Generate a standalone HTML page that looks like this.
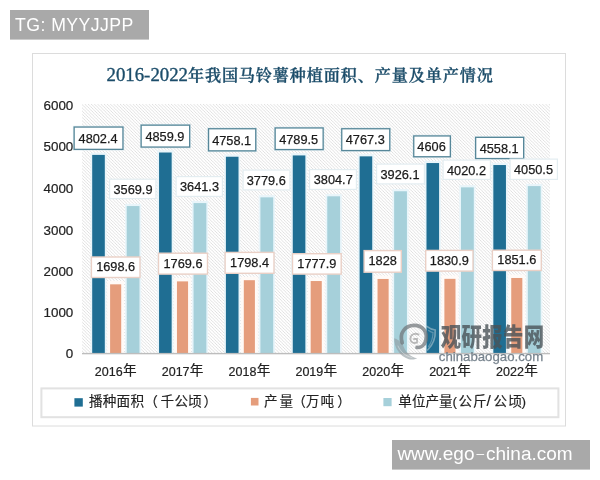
<!DOCTYPE html>
<html lang="zh"><head><meta charset="utf-8"><title>2016-2022年我国马铃薯种植面积、产量及单产情况</title>
<style>
html,body{margin:0;padding:0;background:#fff;}
body{width:600px;height:480px;overflow:hidden;position:relative;}
svg{position:absolute;left:0;top:0;display:block;}
text{font-family:"Liberation Sans","Noto Sans CJK SC",sans-serif;}
.t{font-family:"Liberation Serif","Noto Serif CJK SC",serif;font-weight:bold;}
.dl{font-size:13.7px;fill:#1a1a1a;stroke:#1a1a1a;stroke-width:0.25px;}
.ax{font-size:13.4px;fill:#222;stroke:#222;stroke-width:0.2px;}
.lg{font-size:13.6px;fill:#222;stroke:#222;stroke-width:0.15px;}
</style></head><body>
<svg width="600" height="480" viewBox="0 0 600 480">
<defs>
<pattern id="hatch" width="3.2" height="3.2" patternUnits="userSpaceOnUse">
<rect width="3.2" height="3.2" fill="#fff"/>
<path d="M-0.8,-0.8 L4,4 M-0.8,2.4 L0.8,4 M2.4,-0.8 L4,0.8" stroke="#d5d5d5" stroke-width="0.72" fill="none"/>
</pattern>
<filter id="gl" x="-30%" y="-5%" width="160%" height="110%"><feGaussianBlur stdDeviation="0.5"/></filter>
</defs>
<rect width="600" height="480" fill="#fff"/>

<rect x="10" y="10" width="139" height="29.6" fill="#a9a9a9"/>
<text x="15" y="31.2" font-size="17.7" fill="#fff" textLength="118.4" lengthAdjust="spacing">TG: MYYJJPP</text>
<rect x="392" y="440" width="198" height="29.6" fill="#a9a9a9"/>
<text x="397.4" y="459.7" font-size="19" fill="#fff"><tspan>www.ego</tspan><tspan dx="1.9" dy="-1.3" font-size="13.7">–</tspan><tspan dx="2.0" dy="1.3">china.com</tspan></text>
<rect x="32.5" y="53.5" width="533" height="372.5" fill="#fff" stroke="#dcdcdc" stroke-width="1"/>
<text class="t" fill="#1c4d6a" stroke="#1c4d6a"><tspan x="106.5" y="80.9" font-size="19.4" style="font-weight:normal" stroke-width="0.35" textLength="81.5" lengthAdjust="spacingAndGlyphs">2016-2022</tspan><tspan x="187.9" y="80.8" font-size="16.1" style="font-weight:600" stroke-width="0.3" textLength="304.9" lengthAdjust="spacing">年我国马铃薯种植面积、产量及单产情况</tspan></text>
<rect x="82.0" y="104.0" width="468.0" height="249.7" fill="url(#hatch)"/>
<text class="ax" x="73.3" y="358.0" text-anchor="end">0</text>
<text class="ax" x="73.3" y="317.1" text-anchor="end">1000</text>
<text class="ax" x="73.3" y="276.0" text-anchor="end">2000</text>
<text class="ax" x="73.3" y="234.5" text-anchor="end">3000</text>
<text class="ax" x="73.3" y="192.9" text-anchor="end">4000</text>
<text class="ax" x="73.3" y="150.9" text-anchor="end">5000</text>
<text class="ax" x="73.3" y="109.8" text-anchor="end">6000</text>
<rect x="90.50" y="152.70" width="16.00" height="201.00" fill="#e9f5fa" filter="url(#gl)"/>
<rect x="92.20" y="154.90" width="12.60" height="198.80" fill="#1f6e93"/>
<rect x="107.20" y="280.93" width="16.90" height="72.77" fill="#fffaf7" filter="url(#gl)"/>
<rect x="110.10" y="284.33" width="11.10" height="69.37" fill="#e59d7c"/>
<rect x="125.00" y="203.85" width="16.20" height="149.85" fill="#e9f5fa" filter="url(#gl)"/>
<rect x="126.70" y="206.05" width="12.80" height="147.65" fill="#a6d0da"/>
<rect x="157.36" y="150.31" width="16.00" height="203.39" fill="#e9f5fa" filter="url(#gl)"/>
<rect x="159.06" y="152.51" width="12.60" height="201.19" fill="#1f6e93"/>
<rect x="174.06" y="277.98" width="16.90" height="75.72" fill="#fffaf7" filter="url(#gl)"/>
<rect x="176.96" y="281.38" width="11.10" height="72.32" fill="#e59d7c"/>
<rect x="191.86" y="200.89" width="16.20" height="152.81" fill="#e9f5fa" filter="url(#gl)"/>
<rect x="193.56" y="203.09" width="12.80" height="150.61" fill="#a6d0da"/>
<rect x="224.21" y="154.54" width="16.00" height="199.16" fill="#e9f5fa" filter="url(#gl)"/>
<rect x="225.91" y="156.74" width="12.60" height="196.96" fill="#1f6e93"/>
<rect x="240.91" y="276.79" width="16.90" height="76.91" fill="#fffaf7" filter="url(#gl)"/>
<rect x="243.81" y="280.19" width="11.10" height="73.51" fill="#e59d7c"/>
<rect x="258.71" y="195.15" width="16.20" height="158.55" fill="#e9f5fa" filter="url(#gl)"/>
<rect x="260.41" y="197.35" width="12.80" height="156.35" fill="#a6d0da"/>
<rect x="291.07" y="153.24" width="16.00" height="200.46" fill="#e9f5fa" filter="url(#gl)"/>
<rect x="292.77" y="155.44" width="12.60" height="198.26" fill="#1f6e93"/>
<rect x="307.77" y="277.64" width="16.90" height="76.06" fill="#fffaf7" filter="url(#gl)"/>
<rect x="310.67" y="281.04" width="11.10" height="72.66" fill="#e59d7c"/>
<rect x="325.57" y="194.10" width="16.20" height="159.60" fill="#e9f5fa" filter="url(#gl)"/>
<rect x="327.27" y="196.30" width="12.80" height="157.40" fill="#a6d0da"/>
<rect x="357.93" y="154.16" width="16.00" height="199.54" fill="#e9f5fa" filter="url(#gl)"/>
<rect x="359.63" y="156.36" width="12.60" height="197.34" fill="#1f6e93"/>
<rect x="374.63" y="275.56" width="16.90" height="78.14" fill="#fffaf7" filter="url(#gl)"/>
<rect x="377.53" y="278.96" width="11.10" height="74.74" fill="#e59d7c"/>
<rect x="392.43" y="189.07" width="16.20" height="164.63" fill="#e9f5fa" filter="url(#gl)"/>
<rect x="394.13" y="191.27" width="12.80" height="162.43" fill="#a6d0da"/>
<rect x="424.79" y="160.85" width="16.00" height="192.85" fill="#e9f5fa" filter="url(#gl)"/>
<rect x="426.49" y="163.05" width="12.60" height="190.65" fill="#1f6e93"/>
<rect x="441.49" y="275.44" width="16.90" height="78.26" fill="#fffaf7" filter="url(#gl)"/>
<rect x="444.39" y="278.84" width="11.10" height="74.86" fill="#e59d7c"/>
<rect x="459.29" y="185.16" width="16.20" height="168.54" fill="#e9f5fa" filter="url(#gl)"/>
<rect x="460.99" y="187.36" width="12.80" height="166.34" fill="#a6d0da"/>
<rect x="491.64" y="162.84" width="16.00" height="190.86" fill="#e9f5fa" filter="url(#gl)"/>
<rect x="493.34" y="165.04" width="12.60" height="188.66" fill="#1f6e93"/>
<rect x="508.34" y="274.58" width="16.90" height="79.12" fill="#fffaf7" filter="url(#gl)"/>
<rect x="511.24" y="277.98" width="11.10" height="75.72" fill="#e59d7c"/>
<rect x="526.14" y="183.90" width="16.20" height="169.80" fill="#e9f5fa" filter="url(#gl)"/>
<rect x="527.84" y="186.10" width="12.80" height="167.60" fill="#a6d0da"/>
<rect x="82.0" y="352.9" width="468.0" height="1.4" fill="#bdbdbd"/>
<g id="wm">
<g fill="none" stroke-linecap="round">
<path d="M394.2,338.2 C394,347 399.4,356 408.8,359.3 C412,360 415,359.5 417.2,358.3 C411,357 405,352.5 402.7,344 C400,341 397,339 394.2,338.2 Z" fill="#8f9ba0" fill-opacity="0.62" stroke="none"/>
<path d="M398,346 C400.5,352 405.5,356.2 412,357.6" stroke="#ffffff" stroke-opacity="0.35" stroke-width="1"/>
<path d="M402.2,342.8 C399,333 405,325.6 414,325.4 C422.5,325.2 428,332 425.8,340.5 C424.6,345 421,348 417,347.4" stroke="#6f7578" stroke-opacity="0.72" stroke-width="3.7"/>
<path d="M418.6,334.6 C415,332.6 410.6,334.4 410.4,338.4 C410.2,342.2 414,344 417,342.4 L417,339 L414,339" stroke="#7d7d7d" stroke-opacity="0.5" stroke-width="1.8"/>
<path d="M426.4,326.2 C429.5,328.6 432.5,329.8 435.2,330 C435.6,337 433,344.8 427.6,350" stroke="#b9cdd6" stroke-opacity="0.55" stroke-width="1.6"/>
<path d="M428.6,330.5 C430.5,331.8 431.8,332.4 433,332.6 C433,337.5 431.4,342.6 428.4,346.6" stroke="#b9cdd6" stroke-opacity="0.4" stroke-width="1.2"/>
</g>
<g transform="translate(440.8,346.1) scale(1,1.25)"><text x="0" y="0" font-size="20.4" style="font-weight:900" fill="#4a5258" fill-opacity="0.8" textLength="103.4" lengthAdjust="spacing">观研报告网</text></g>
<text x="438.8" y="361" font-size="13.6" fill="#6b7984" fill-opacity="0.9" stroke="#6b7984" stroke-opacity="0.9" stroke-width="0.25" textLength="104.4" lengthAdjust="spacingAndGlyphs">chinabaogao.com</text>
</g>

<rect x="74.30" y="127.20" width="48.50" height="22.00" fill="none" stroke="#d3e4eb" stroke-opacity="0.7" stroke-width="2.8"/>
<rect x="74.15" y="127.05" width="48.80" height="22.30" fill="#fff" stroke="#578799" stroke-width="1.3"/>
<text class="dl" x="78.55" y="142.95" textLength="39.0" lengthAdjust="spacingAndGlyphs">4802.4</text>
<rect x="141.30" y="125.30" width="48.20" height="21.60" fill="none" stroke="#d3e4eb" stroke-opacity="0.7" stroke-width="2.8"/>
<rect x="141.15" y="125.15" width="48.50" height="21.90" fill="#fff" stroke="#578799" stroke-width="1.3"/>
<text class="dl" x="145.40" y="140.85" textLength="39.0" lengthAdjust="spacingAndGlyphs">4859.9</text>
<rect x="208.70" y="128.90" width="46.90" height="21.80" fill="none" stroke="#d3e4eb" stroke-opacity="0.7" stroke-width="2.8"/>
<rect x="208.55" y="128.75" width="47.20" height="22.10" fill="#fff" stroke="#578799" stroke-width="1.3"/>
<text class="dl" x="212.15" y="144.55" textLength="39.0" lengthAdjust="spacingAndGlyphs">4758.1</text>
<rect x="275.30" y="128.10" width="47.70" height="21.30" fill="none" stroke="#d3e4eb" stroke-opacity="0.7" stroke-width="2.8"/>
<rect x="275.15" y="127.95" width="48.00" height="21.60" fill="#fff" stroke="#578799" stroke-width="1.3"/>
<text class="dl" x="279.15" y="143.50" textLength="39.0" lengthAdjust="spacingAndGlyphs">4789.5</text>
<rect x="341.90" y="128.90" width="47.70" height="21.50" fill="none" stroke="#d3e4eb" stroke-opacity="0.7" stroke-width="2.8"/>
<rect x="341.75" y="128.75" width="48.00" height="21.80" fill="#fff" stroke="#578799" stroke-width="1.3"/>
<text class="dl" x="345.75" y="144.40" textLength="39.0" lengthAdjust="spacingAndGlyphs">4767.3</text>
<rect x="413.90" y="136.10" width="36.30" height="20.50" fill="none" stroke="#d3e4eb" stroke-opacity="0.7" stroke-width="2.8"/>
<rect x="413.75" y="135.95" width="36.60" height="20.80" fill="#fff" stroke="#578799" stroke-width="1.3"/>
<text class="dl" x="417.35" y="151.10" textLength="28.4" lengthAdjust="spacingAndGlyphs">4606</text>
<rect x="475.80" y="137.50" width="47.70" height="20.90" fill="none" stroke="#d3e4eb" stroke-opacity="0.7" stroke-width="2.8"/>
<rect x="475.65" y="137.35" width="48.00" height="21.20" fill="#fff" stroke="#578799" stroke-width="1.3"/>
<text class="dl" x="479.65" y="152.70" textLength="39.0" lengthAdjust="spacingAndGlyphs">4558.1</text>
<rect x="91.40" y="257.00" width="48.60" height="20.50" fill="#fff" stroke="#ead0c6" stroke-width="1.4"/>
<text class="dl" x="96.20" y="271.10" textLength="39.0" lengthAdjust="spacingAndGlyphs">1698.6</text>
<rect x="158.50" y="253.20" width="49.00" height="20.90" fill="#fff" stroke="#ead0c6" stroke-width="1.4"/>
<text class="dl" x="163.50" y="267.50" textLength="39.0" lengthAdjust="spacingAndGlyphs">1769.6</text>
<rect x="225.10" y="252.40" width="48.90" height="20.90" fill="#fff" stroke="#ead0c6" stroke-width="1.4"/>
<text class="dl" x="230.05" y="266.70" textLength="39.0" lengthAdjust="spacingAndGlyphs">1798.4</text>
<rect x="292.50" y="253.70" width="48.70" height="20.40" fill="#fff" stroke="#ead0c6" stroke-width="1.4"/>
<text class="dl" x="297.35" y="267.75" textLength="39.0" lengthAdjust="spacingAndGlyphs">1777.9</text>
<rect x="364.10" y="250.60" width="37.20" height="21.60" fill="#fff" stroke="#ead0c6" stroke-width="1.4"/>
<text class="dl" x="368.50" y="265.25" textLength="28.4" lengthAdjust="spacingAndGlyphs">1828</text>
<rect x="425.70" y="250.40" width="47.30" height="20.70" fill="#fff" stroke="#ead0c6" stroke-width="1.4"/>
<text class="dl" x="429.85" y="264.60" textLength="39.0" lengthAdjust="spacingAndGlyphs">1830.9</text>
<rect x="492.40" y="250.20" width="48.90" height="20.30" fill="#fff" stroke="#ead0c6" stroke-width="1.4"/>
<text class="dl" x="497.35" y="264.20" textLength="39.0" lengthAdjust="spacingAndGlyphs">1851.6</text>
<rect x="109.60" y="179.20" width="46.30" height="19.40" fill="#fff" stroke="#e3edf1" stroke-width="1.2"/>
<text class="dl" x="113.50" y="193.75" textLength="39.0" lengthAdjust="spacingAndGlyphs">3569.9</text>
<rect x="176.10" y="176.60" width="46.30" height="19.80" fill="#fff" stroke="#e3edf1" stroke-width="1.2"/>
<text class="dl" x="180.00" y="190.75" textLength="39.0" lengthAdjust="spacingAndGlyphs">3641.3</text>
<rect x="243.10" y="170.10" width="46.80" height="19.80" fill="#fff" stroke="#e3edf1" stroke-width="1.2"/>
<text class="dl" x="246.75" y="185.00" textLength="39.0" lengthAdjust="spacingAndGlyphs">3779.6</text>
<rect x="309.60" y="169.60" width="46.80" height="19.80" fill="#fff" stroke="#e3edf1" stroke-width="1.2"/>
<text class="dl" x="313.75" y="184.00" textLength="39.0" lengthAdjust="spacingAndGlyphs">3804.7</text>
<rect x="376.60" y="164.10" width="47.80" height="19.80" fill="#fff" stroke="#e3edf1" stroke-width="1.2"/>
<text class="dl" x="380.50" y="179.00" textLength="39.0" lengthAdjust="spacingAndGlyphs">3926.1</text>
<rect x="443.10" y="160.10" width="47.30" height="19.30" fill="#fff" stroke="#e3edf1" stroke-width="1.2"/>
<text class="dl" x="447.00" y="174.50" textLength="39.0" lengthAdjust="spacingAndGlyphs">4020.2</text>
<rect x="510.10" y="159.10" width="47.30" height="20.30" fill="#fff" stroke="#e3edf1" stroke-width="1.2"/>
<text class="dl" x="514.00" y="173.50" textLength="39.0" lengthAdjust="spacingAndGlyphs">4050.5</text>
<text x="115.7" y="375.6" font-size="12.5" fill="#222" stroke="#222" stroke-width="0.2" text-anchor="middle"><tspan>2016</tspan><tspan font-size="13.6" dy="-0.8" dx="0.3">年</tspan></text>
<text x="182.6" y="375.6" font-size="12.5" fill="#222" stroke="#222" stroke-width="0.2" text-anchor="middle"><tspan>2017</tspan><tspan font-size="13.6" dy="-0.8" dx="0.3">年</tspan></text>
<text x="249.4" y="375.6" font-size="12.5" fill="#222" stroke="#222" stroke-width="0.2" text-anchor="middle"><tspan>2018</tspan><tspan font-size="13.6" dy="-0.8" dx="0.3">年</tspan></text>
<text x="316.3" y="375.6" font-size="12.5" fill="#222" stroke="#222" stroke-width="0.2" text-anchor="middle"><tspan>2019</tspan><tspan font-size="13.6" dy="-0.8" dx="0.3">年</tspan></text>
<text x="383.2" y="375.6" font-size="12.5" fill="#222" stroke="#222" stroke-width="0.2" text-anchor="middle"><tspan>2020</tspan><tspan font-size="13.6" dy="-0.8" dx="0.3">年</tspan></text>
<text x="450.0" y="375.6" font-size="12.5" fill="#222" stroke="#222" stroke-width="0.2" text-anchor="middle"><tspan>2021</tspan><tspan font-size="13.6" dy="-0.8" dx="0.3">年</tspan></text>
<text x="516.9" y="375.6" font-size="12.5" fill="#222" stroke="#222" stroke-width="0.2" text-anchor="middle"><tspan>2022</tspan><tspan font-size="13.6" dy="-0.8" dx="0.3">年</tspan></text>
<rect x="41.4" y="388.4" width="517" height="28.8" fill="#fff" stroke="#e2e2e2" stroke-width="2"/>
<rect x="74.4" y="398.2" width="8.4" height="8.4" fill="#1f6e93"/>
<text class="lg" y="405.9"><tspan x="89 102.8 116.6 130.4">播种面积</tspan><tspan x="144.2">（</tspan><tspan x="160.6 174.4 188">千公顷</tspan><tspan x="203.6">）</tspan></text>
<rect x="250.9" y="397.9" width="7.6" height="7.6" fill="#e59d7c"/>
<text class="lg" y="405.9"><tspan x="264 279.6">产量</tspan><tspan x="292.2">（</tspan><tspan x="305.8 320.4">万吨</tspan><tspan x="337.3">）</tspan></text>
<rect x="383.4" y="398" width="8.2" height="8.2" fill="#a6d0da"/>
<text class="lg" y="405.9"><tspan x="398.3 411.9 425.5 439.1">单位产量</tspan><tspan x="452.6">(</tspan><tspan x="458.4 473">公斤</tspan><tspan x="486.6" font-size="15.5">/</tspan><tspan x="493.6 508.2">公顷</tspan><tspan x="521.4">)</tspan></text>
</svg></body></html>
